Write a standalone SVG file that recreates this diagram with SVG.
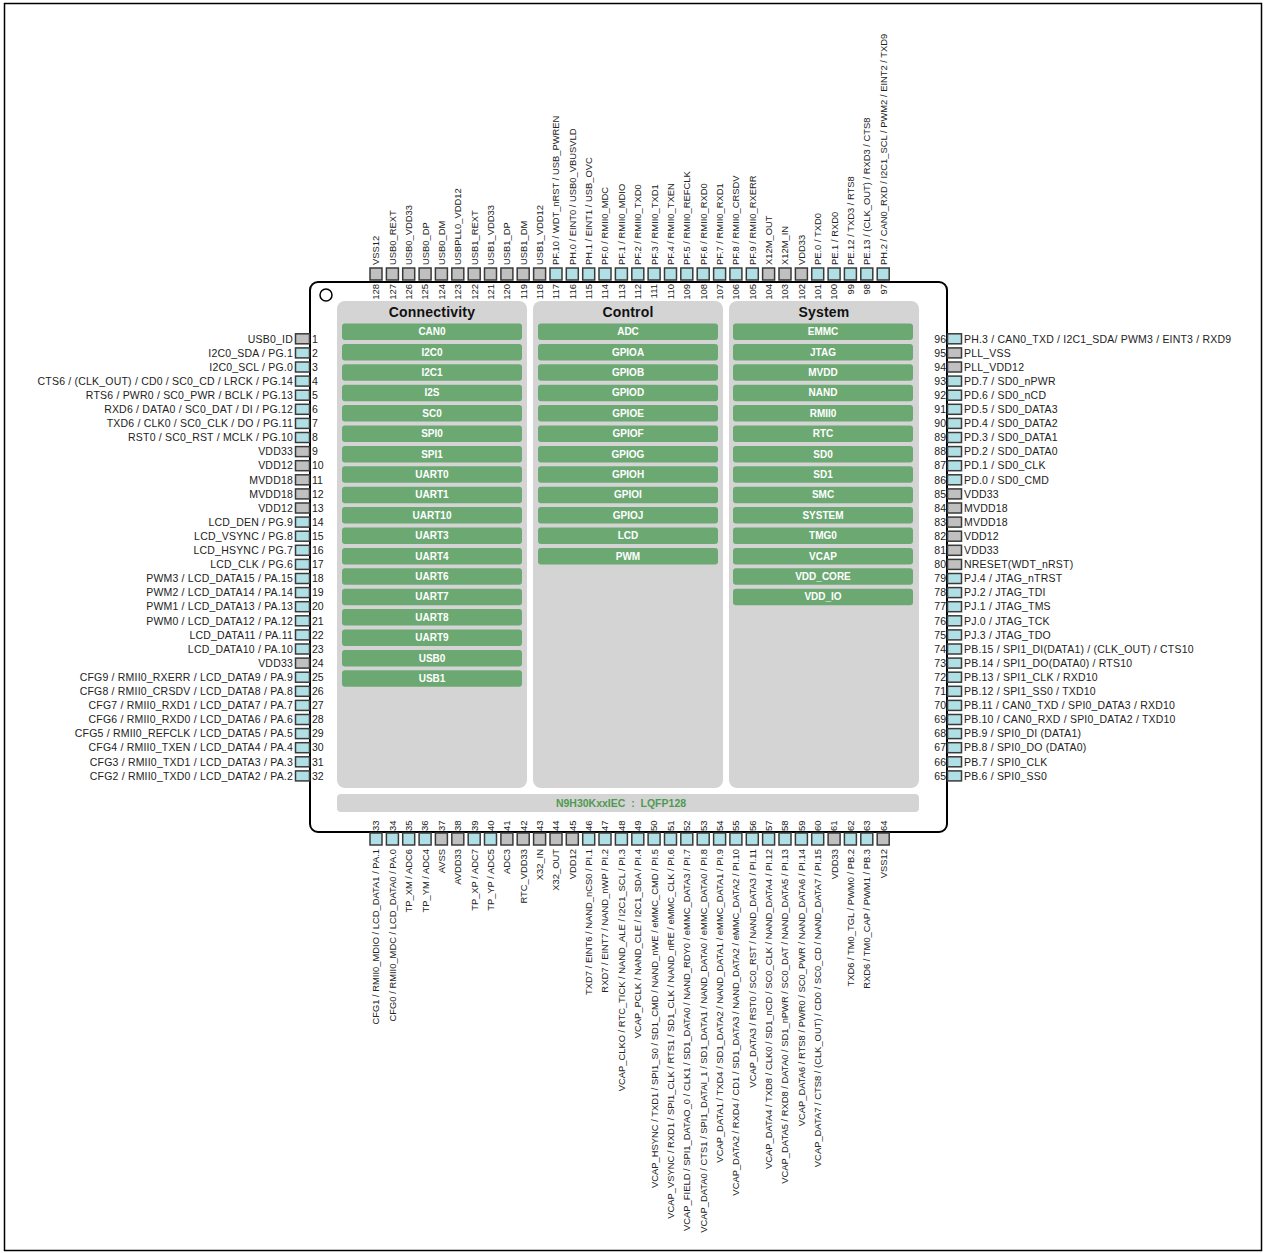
<svg xmlns="http://www.w3.org/2000/svg" width="1267" height="1253" viewBox="0 0 1267 1253">
<style>
text{font-family:"Liberation Sans",Arial,Helvetica,sans-serif;fill:#222}
.h{font-size:10.5px;letter-spacing:0.2px}
.v{font-size:9.4px}
.n{font-size:9.5px}
.hn{font-size:10.5px}
.e{text-anchor:end}
.g{fill:#c0c0c0;stroke:#3a3a3a;stroke-width:1.5}
.c{fill:#b0e0e6;stroke:#3a3a3a;stroke-width:1.5}
.pan{fill:#d4d4d4}
.bt{fill:#6ba872}
.bx{font-size:10px;font-weight:bold;fill:#fff;text-anchor:middle}
.tt{font-size:14px;font-weight:bold;fill:#111;text-anchor:middle;letter-spacing:0.2px}
</style>
<rect x="4.5" y="3.5" width="1257" height="1247" fill="none" stroke="#000" stroke-width="1.5"/>
<g id="chip">
<rect x="310" y="282" width="637" height="550" rx="8" fill="#fff" stroke="#000" stroke-width="2"/>
<circle cx="326" cy="295" r="6" fill="#fff" stroke="#000" stroke-width="1.5"/>
</g>
<g id="connectivity">
<rect class="pan" x="337" y="301" width="190" height="487" rx="8"/>
<text class="tt" x="432" y="316.5">Connectivity</text>
<g id="CAN0" transform="translate(342 323.5)"><rect class="bt" width="180" height="16.5" rx="3"/><text class="bx" x="90" y="11.8">CAN0</text></g>
<g id="I2C0" transform="translate(342 343.9)"><rect class="bt" width="180" height="16.5" rx="3"/><text class="bx" x="90" y="11.8">I2C0</text></g>
<g id="I2C1" transform="translate(342 364.3)"><rect class="bt" width="180" height="16.5" rx="3"/><text class="bx" x="90" y="11.8">I2C1</text></g>
<g id="I2S" transform="translate(342 384.7)"><rect class="bt" width="180" height="16.5" rx="3"/><text class="bx" x="90" y="11.8">I2S</text></g>
<g id="SC0" transform="translate(342 405.1)"><rect class="bt" width="180" height="16.5" rx="3"/><text class="bx" x="90" y="11.8">SC0</text></g>
<g id="SPI0" transform="translate(342 425.5)"><rect class="bt" width="180" height="16.5" rx="3"/><text class="bx" x="90" y="11.8">SPI0</text></g>
<g id="SPI1" transform="translate(342 445.9)"><rect class="bt" width="180" height="16.5" rx="3"/><text class="bx" x="90" y="11.8">SPI1</text></g>
<g id="UART0" transform="translate(342 466.3)"><rect class="bt" width="180" height="16.5" rx="3"/><text class="bx" x="90" y="11.8">UART0</text></g>
<g id="UART1" transform="translate(342 486.7)"><rect class="bt" width="180" height="16.5" rx="3"/><text class="bx" x="90" y="11.8">UART1</text></g>
<g id="UART10" transform="translate(342 507.1)"><rect class="bt" width="180" height="16.5" rx="3"/><text class="bx" x="90" y="11.8">UART10</text></g>
<g id="UART3" transform="translate(342 527.5)"><rect class="bt" width="180" height="16.5" rx="3"/><text class="bx" x="90" y="11.8">UART3</text></g>
<g id="UART4" transform="translate(342 547.9)"><rect class="bt" width="180" height="16.5" rx="3"/><text class="bx" x="90" y="11.8">UART4</text></g>
<g id="UART6" transform="translate(342 568.3)"><rect class="bt" width="180" height="16.5" rx="3"/><text class="bx" x="90" y="11.8">UART6</text></g>
<g id="UART7" transform="translate(342 588.7)"><rect class="bt" width="180" height="16.5" rx="3"/><text class="bx" x="90" y="11.8">UART7</text></g>
<g id="UART8" transform="translate(342 609.1)"><rect class="bt" width="180" height="16.5" rx="3"/><text class="bx" x="90" y="11.8">UART8</text></g>
<g id="UART9" transform="translate(342 629.5)"><rect class="bt" width="180" height="16.5" rx="3"/><text class="bx" x="90" y="11.8">UART9</text></g>
<g id="USB0" transform="translate(342 649.9)"><rect class="bt" width="180" height="16.5" rx="3"/><text class="bx" x="90" y="11.8">USB0</text></g>
<g id="USB1" transform="translate(342 670.3)"><rect class="bt" width="180" height="16.5" rx="3"/><text class="bx" x="90" y="11.8">USB1</text></g>
</g>
<g id="control">
<rect class="pan" x="533" y="301" width="190" height="487" rx="8"/>
<text class="tt" x="628" y="316.5">Control</text>
<g id="ADC" transform="translate(538 323.5)"><rect class="bt" width="180" height="16.5" rx="3"/><text class="bx" x="90" y="11.8">ADC</text></g>
<g id="GPIOA" transform="translate(538 343.9)"><rect class="bt" width="180" height="16.5" rx="3"/><text class="bx" x="90" y="11.8">GPIOA</text></g>
<g id="GPIOB" transform="translate(538 364.3)"><rect class="bt" width="180" height="16.5" rx="3"/><text class="bx" x="90" y="11.8">GPIOB</text></g>
<g id="GPIOD" transform="translate(538 384.7)"><rect class="bt" width="180" height="16.5" rx="3"/><text class="bx" x="90" y="11.8">GPIOD</text></g>
<g id="GPIOE" transform="translate(538 405.1)"><rect class="bt" width="180" height="16.5" rx="3"/><text class="bx" x="90" y="11.8">GPIOE</text></g>
<g id="GPIOF" transform="translate(538 425.5)"><rect class="bt" width="180" height="16.5" rx="3"/><text class="bx" x="90" y="11.8">GPIOF</text></g>
<g id="GPIOG" transform="translate(538 445.9)"><rect class="bt" width="180" height="16.5" rx="3"/><text class="bx" x="90" y="11.8">GPIOG</text></g>
<g id="GPIOH" transform="translate(538 466.3)"><rect class="bt" width="180" height="16.5" rx="3"/><text class="bx" x="90" y="11.8">GPIOH</text></g>
<g id="GPIOI" transform="translate(538 486.7)"><rect class="bt" width="180" height="16.5" rx="3"/><text class="bx" x="90" y="11.8">GPIOI</text></g>
<g id="GPIOJ" transform="translate(538 507.1)"><rect class="bt" width="180" height="16.5" rx="3"/><text class="bx" x="90" y="11.8">GPIOJ</text></g>
<g id="LCD" transform="translate(538 527.5)"><rect class="bt" width="180" height="16.5" rx="3"/><text class="bx" x="90" y="11.8">LCD</text></g>
<g id="PWM" transform="translate(538 547.9)"><rect class="bt" width="180" height="16.5" rx="3"/><text class="bx" x="90" y="11.8">PWM</text></g>
</g>
<g id="system">
<rect class="pan" x="729" y="301" width="190" height="487" rx="8"/>
<text class="tt" x="824" y="316.5">System</text>
<g id="EMMC" transform="translate(733 323.5)"><rect class="bt" width="180" height="16.5" rx="3"/><text class="bx" x="90" y="11.8">EMMC</text></g>
<g id="JTAG" transform="translate(733 343.9)"><rect class="bt" width="180" height="16.5" rx="3"/><text class="bx" x="90" y="11.8">JTAG</text></g>
<g id="MVDD" transform="translate(733 364.3)"><rect class="bt" width="180" height="16.5" rx="3"/><text class="bx" x="90" y="11.8">MVDD</text></g>
<g id="NAND" transform="translate(733 384.7)"><rect class="bt" width="180" height="16.5" rx="3"/><text class="bx" x="90" y="11.8">NAND</text></g>
<g id="RMII0" transform="translate(733 405.1)"><rect class="bt" width="180" height="16.5" rx="3"/><text class="bx" x="90" y="11.8">RMII0</text></g>
<g id="RTC" transform="translate(733 425.5)"><rect class="bt" width="180" height="16.5" rx="3"/><text class="bx" x="90" y="11.8">RTC</text></g>
<g id="SD0" transform="translate(733 445.9)"><rect class="bt" width="180" height="16.5" rx="3"/><text class="bx" x="90" y="11.8">SD0</text></g>
<g id="SD1" transform="translate(733 466.3)"><rect class="bt" width="180" height="16.5" rx="3"/><text class="bx" x="90" y="11.8">SD1</text></g>
<g id="SMC" transform="translate(733 486.7)"><rect class="bt" width="180" height="16.5" rx="3"/><text class="bx" x="90" y="11.8">SMC</text></g>
<g id="SYSTEM" transform="translate(733 507.1)"><rect class="bt" width="180" height="16.5" rx="3"/><text class="bx" x="90" y="11.8">SYSTEM</text></g>
<g id="TMG0" transform="translate(733 527.5)"><rect class="bt" width="180" height="16.5" rx="3"/><text class="bx" x="90" y="11.8">TMG0</text></g>
<g id="VCAP" transform="translate(733 547.9)"><rect class="bt" width="180" height="16.5" rx="3"/><text class="bx" x="90" y="11.8">VCAP</text></g>
<g id="VDD_CORE" transform="translate(733 568.3)"><rect class="bt" width="180" height="16.5" rx="3"/><text class="bx" x="90" y="11.8">VDD_CORE</text></g>
<g id="VDD_IO" transform="translate(733 588.7)"><rect class="bt" width="180" height="16.5" rx="3"/><text class="bx" x="90" y="11.8">VDD_IO</text></g>
</g>
<g id="package">
<rect class="pan" x="337" y="794" width="582" height="18" rx="4"/>
<text x="621" y="806.8" text-anchor="middle" font-size="10.5" font-weight="bold" style="fill:#4f9a52" xml:space="preserve">N9H30KxxIEC  :  LQFP128</text>
</g>
<g id="left-pins">
<g id="p1" transform="translate(0 338.8)"><rect class="g" x="295.5" y="-5" width="14" height="10"/><text class="h e" x="293" y="3.7">USB0_ID</text><text class="hn" x="312" y="3.7">1</text></g>
<g id="p2" transform="translate(0 352.9)"><rect class="c" x="295.5" y="-5" width="14" height="10"/><text class="h e" x="293" y="3.7">I2C0_SDA / PG.1</text><text class="hn" x="312" y="3.7">2</text></g>
<g id="p3" transform="translate(0 367)"><rect class="c" x="295.5" y="-5" width="14" height="10"/><text class="h e" x="293" y="3.7">I2C0_SCL / PG.0</text><text class="hn" x="312" y="3.7">3</text></g>
<g id="p4" transform="translate(0 381.1)"><rect class="c" x="295.5" y="-5" width="14" height="10"/><text class="h e" x="293" y="3.7">CTS6 / (CLK_OUT) / CD0 / SC0_CD / LRCK / PG.14</text><text class="hn" x="312" y="3.7">4</text></g>
<g id="p5" transform="translate(0 395.2)"><rect class="c" x="295.5" y="-5" width="14" height="10"/><text class="h e" x="293" y="3.7">RTS6 / PWR0 / SC0_PWR / BCLK / PG.13</text><text class="hn" x="312" y="3.7">5</text></g>
<g id="p6" transform="translate(0 409.3)"><rect class="c" x="295.5" y="-5" width="14" height="10"/><text class="h e" x="293" y="3.7">RXD6 / DATA0 / SC0_DAT / DI / PG.12</text><text class="hn" x="312" y="3.7">6</text></g>
<g id="p7" transform="translate(0 423.4)"><rect class="c" x="295.5" y="-5" width="14" height="10"/><text class="h e" x="293" y="3.7">TXD6 / CLK0 / SC0_CLK / DO / PG.11</text><text class="hn" x="312" y="3.7">7</text></g>
<g id="p8" transform="translate(0 437.5)"><rect class="c" x="295.5" y="-5" width="14" height="10"/><text class="h e" x="293" y="3.7">RST0 / SC0_RST / MCLK / PG.10</text><text class="hn" x="312" y="3.7">8</text></g>
<g id="p9" transform="translate(0 451.6)"><rect class="g" x="295.5" y="-5" width="14" height="10"/><text class="h e" x="293" y="3.7">VDD33</text><text class="hn" x="312" y="3.7">9</text></g>
<g id="p10" transform="translate(0 465.7)"><rect class="g" x="295.5" y="-5" width="14" height="10"/><text class="h e" x="293" y="3.7">VDD12</text><text class="hn" x="312" y="3.7">10</text></g>
<g id="p11" transform="translate(0 479.8)"><rect class="g" x="295.5" y="-5" width="14" height="10"/><text class="h e" x="293" y="3.7">MVDD18</text><text class="hn" x="312" y="3.7">11</text></g>
<g id="p12" transform="translate(0 493.9)"><rect class="g" x="295.5" y="-5" width="14" height="10"/><text class="h e" x="293" y="3.7">MVDD18</text><text class="hn" x="312" y="3.7">12</text></g>
<g id="p13" transform="translate(0 508)"><rect class="g" x="295.5" y="-5" width="14" height="10"/><text class="h e" x="293" y="3.7">VDD12</text><text class="hn" x="312" y="3.7">13</text></g>
<g id="p14" transform="translate(0 522.1)"><rect class="c" x="295.5" y="-5" width="14" height="10"/><text class="h e" x="293" y="3.7">LCD_DEN / PG.9</text><text class="hn" x="312" y="3.7">14</text></g>
<g id="p15" transform="translate(0 536.2)"><rect class="c" x="295.5" y="-5" width="14" height="10"/><text class="h e" x="293" y="3.7">LCD_VSYNC / PG.8</text><text class="hn" x="312" y="3.7">15</text></g>
<g id="p16" transform="translate(0 550.3)"><rect class="c" x="295.5" y="-5" width="14" height="10"/><text class="h e" x="293" y="3.7">LCD_HSYNC / PG.7</text><text class="hn" x="312" y="3.7">16</text></g>
<g id="p17" transform="translate(0 564.4)"><rect class="c" x="295.5" y="-5" width="14" height="10"/><text class="h e" x="293" y="3.7">LCD_CLK / PG.6</text><text class="hn" x="312" y="3.7">17</text></g>
<g id="p18" transform="translate(0 578.5)"><rect class="c" x="295.5" y="-5" width="14" height="10"/><text class="h e" x="293" y="3.7">PWM3 / LCD_DATA15 / PA.15</text><text class="hn" x="312" y="3.7">18</text></g>
<g id="p19" transform="translate(0 592.6)"><rect class="c" x="295.5" y="-5" width="14" height="10"/><text class="h e" x="293" y="3.7">PWM2 / LCD_DATA14 / PA.14</text><text class="hn" x="312" y="3.7">19</text></g>
<g id="p20" transform="translate(0 606.7)"><rect class="c" x="295.5" y="-5" width="14" height="10"/><text class="h e" x="293" y="3.7">PWM1 / LCD_DATA13 / PA.13</text><text class="hn" x="312" y="3.7">20</text></g>
<g id="p21" transform="translate(0 620.8)"><rect class="c" x="295.5" y="-5" width="14" height="10"/><text class="h e" x="293" y="3.7">PWM0 / LCD_DATA12 / PA.12</text><text class="hn" x="312" y="3.7">21</text></g>
<g id="p22" transform="translate(0 634.9)"><rect class="c" x="295.5" y="-5" width="14" height="10"/><text class="h e" x="293" y="3.7">LCD_DATA11 / PA.11</text><text class="hn" x="312" y="3.7">22</text></g>
<g id="p23" transform="translate(0 649)"><rect class="c" x="295.5" y="-5" width="14" height="10"/><text class="h e" x="293" y="3.7">LCD_DATA10 / PA.10</text><text class="hn" x="312" y="3.7">23</text></g>
<g id="p24" transform="translate(0 663.1)"><rect class="g" x="295.5" y="-5" width="14" height="10"/><text class="h e" x="293" y="3.7">VDD33</text><text class="hn" x="312" y="3.7">24</text></g>
<g id="p25" transform="translate(0 677.2)"><rect class="c" x="295.5" y="-5" width="14" height="10"/><text class="h e" x="293" y="3.7">CFG9 / RMII0_RXERR / LCD_DATA9 / PA.9</text><text class="hn" x="312" y="3.7">25</text></g>
<g id="p26" transform="translate(0 691.3)"><rect class="c" x="295.5" y="-5" width="14" height="10"/><text class="h e" x="293" y="3.7">CFG8 / RMII0_CRSDV / LCD_DATA8 / PA.8</text><text class="hn" x="312" y="3.7">26</text></g>
<g id="p27" transform="translate(0 705.4)"><rect class="c" x="295.5" y="-5" width="14" height="10"/><text class="h e" x="293" y="3.7">CFG7 / RMII0_RXD1 / LCD_DATA7 / PA.7</text><text class="hn" x="312" y="3.7">27</text></g>
<g id="p28" transform="translate(0 719.5)"><rect class="c" x="295.5" y="-5" width="14" height="10"/><text class="h e" x="293" y="3.7">CFG6 / RMII0_RXD0 / LCD_DATA6 / PA.6</text><text class="hn" x="312" y="3.7">28</text></g>
<g id="p29" transform="translate(0 733.6)"><rect class="c" x="295.5" y="-5" width="14" height="10"/><text class="h e" x="293" y="3.7">CFG5 / RMII0_REFCLK / LCD_DATA5 / PA.5</text><text class="hn" x="312" y="3.7">29</text></g>
<g id="p30" transform="translate(0 747.7)"><rect class="c" x="295.5" y="-5" width="14" height="10"/><text class="h e" x="293" y="3.7">CFG4 / RMII0_TXEN / LCD_DATA4 / PA.4</text><text class="hn" x="312" y="3.7">30</text></g>
<g id="p31" transform="translate(0 761.8)"><rect class="c" x="295.5" y="-5" width="14" height="10"/><text class="h e" x="293" y="3.7">CFG3 / RMII0_TXD1 / LCD_DATA3 / PA.3</text><text class="hn" x="312" y="3.7">31</text></g>
<g id="p32" transform="translate(0 775.9)"><rect class="c" x="295.5" y="-5" width="14" height="10"/><text class="h e" x="293" y="3.7">CFG2 / RMII0_TXD0 / LCD_DATA2 / PA.2</text><text class="hn" x="312" y="3.7">32</text></g>
</g>
<g id="right-pins">
<g id="p96" transform="translate(0 338.8)"><rect class="c" x="947.5" y="-5" width="14" height="10"/><text class="h" x="964" y="3.7">PH.3 / CAN0_TXD / I2C1_SDA/ PWM3 / EINT3 / RXD9</text><text class="hn e" x="946" y="3.7">96</text></g>
<g id="p95" transform="translate(0 352.9)"><rect class="g" x="947.5" y="-5" width="14" height="10"/><text class="h" x="964" y="3.7">PLL_VSS</text><text class="hn e" x="946" y="3.7">95</text></g>
<g id="p94" transform="translate(0 367)"><rect class="g" x="947.5" y="-5" width="14" height="10"/><text class="h" x="964" y="3.7">PLL_VDD12</text><text class="hn e" x="946" y="3.7">94</text></g>
<g id="p93" transform="translate(0 381.1)"><rect class="c" x="947.5" y="-5" width="14" height="10"/><text class="h" x="964" y="3.7">PD.7 / SD0_nPWR</text><text class="hn e" x="946" y="3.7">93</text></g>
<g id="p92" transform="translate(0 395.2)"><rect class="c" x="947.5" y="-5" width="14" height="10"/><text class="h" x="964" y="3.7">PD.6 / SD0_nCD</text><text class="hn e" x="946" y="3.7">92</text></g>
<g id="p91" transform="translate(0 409.3)"><rect class="c" x="947.5" y="-5" width="14" height="10"/><text class="h" x="964" y="3.7">PD.5 / SD0_DATA3</text><text class="hn e" x="946" y="3.7">91</text></g>
<g id="p90" transform="translate(0 423.4)"><rect class="c" x="947.5" y="-5" width="14" height="10"/><text class="h" x="964" y="3.7">PD.4 / SD0_DATA2</text><text class="hn e" x="946" y="3.7">90</text></g>
<g id="p89" transform="translate(0 437.5)"><rect class="c" x="947.5" y="-5" width="14" height="10"/><text class="h" x="964" y="3.7">PD.3 / SD0_DATA1</text><text class="hn e" x="946" y="3.7">89</text></g>
<g id="p88" transform="translate(0 451.6)"><rect class="c" x="947.5" y="-5" width="14" height="10"/><text class="h" x="964" y="3.7">PD.2 / SD0_DATA0</text><text class="hn e" x="946" y="3.7">88</text></g>
<g id="p87" transform="translate(0 465.7)"><rect class="c" x="947.5" y="-5" width="14" height="10"/><text class="h" x="964" y="3.7">PD.1 / SD0_CLK</text><text class="hn e" x="946" y="3.7">87</text></g>
<g id="p86" transform="translate(0 479.8)"><rect class="c" x="947.5" y="-5" width="14" height="10"/><text class="h" x="964" y="3.7">PD.0 / SD0_CMD</text><text class="hn e" x="946" y="3.7">86</text></g>
<g id="p85" transform="translate(0 493.9)"><rect class="g" x="947.5" y="-5" width="14" height="10"/><text class="h" x="964" y="3.7">VDD33</text><text class="hn e" x="946" y="3.7">85</text></g>
<g id="p84" transform="translate(0 508)"><rect class="g" x="947.5" y="-5" width="14" height="10"/><text class="h" x="964" y="3.7">MVDD18</text><text class="hn e" x="946" y="3.7">84</text></g>
<g id="p83" transform="translate(0 522.1)"><rect class="g" x="947.5" y="-5" width="14" height="10"/><text class="h" x="964" y="3.7">MVDD18</text><text class="hn e" x="946" y="3.7">83</text></g>
<g id="p82" transform="translate(0 536.2)"><rect class="g" x="947.5" y="-5" width="14" height="10"/><text class="h" x="964" y="3.7">VDD12</text><text class="hn e" x="946" y="3.7">82</text></g>
<g id="p81" transform="translate(0 550.3)"><rect class="g" x="947.5" y="-5" width="14" height="10"/><text class="h" x="964" y="3.7">VDD33</text><text class="hn e" x="946" y="3.7">81</text></g>
<g id="p80" transform="translate(0 564.4)"><rect class="g" x="947.5" y="-5" width="14" height="10"/><text class="h" x="964" y="3.7">NRESET(WDT_nRST)</text><text class="hn e" x="946" y="3.7">80</text></g>
<g id="p79" transform="translate(0 578.5)"><rect class="c" x="947.5" y="-5" width="14" height="10"/><text class="h" x="964" y="3.7">PJ.4 / JTAG_nTRST</text><text class="hn e" x="946" y="3.7">79</text></g>
<g id="p78" transform="translate(0 592.6)"><rect class="c" x="947.5" y="-5" width="14" height="10"/><text class="h" x="964" y="3.7">PJ.2 / JTAG_TDI</text><text class="hn e" x="946" y="3.7">78</text></g>
<g id="p77" transform="translate(0 606.7)"><rect class="c" x="947.5" y="-5" width="14" height="10"/><text class="h" x="964" y="3.7">PJ.1 / JTAG_TMS</text><text class="hn e" x="946" y="3.7">77</text></g>
<g id="p76" transform="translate(0 620.8)"><rect class="c" x="947.5" y="-5" width="14" height="10"/><text class="h" x="964" y="3.7">PJ.0 / JTAG_TCK</text><text class="hn e" x="946" y="3.7">76</text></g>
<g id="p75" transform="translate(0 634.9)"><rect class="c" x="947.5" y="-5" width="14" height="10"/><text class="h" x="964" y="3.7">PJ.3 / JTAG_TDO</text><text class="hn e" x="946" y="3.7">75</text></g>
<g id="p74" transform="translate(0 649)"><rect class="c" x="947.5" y="-5" width="14" height="10"/><text class="h" x="964" y="3.7">PB.15 / SPI1_DI(DATA1) / (CLK_OUT) / CTS10</text><text class="hn e" x="946" y="3.7">74</text></g>
<g id="p73" transform="translate(0 663.1)"><rect class="c" x="947.5" y="-5" width="14" height="10"/><text class="h" x="964" y="3.7">PB.14 / SPI1_DO(DATA0) / RTS10</text><text class="hn e" x="946" y="3.7">73</text></g>
<g id="p72" transform="translate(0 677.2)"><rect class="c" x="947.5" y="-5" width="14" height="10"/><text class="h" x="964" y="3.7">PB.13 / SPI1_CLK / RXD10</text><text class="hn e" x="946" y="3.7">72</text></g>
<g id="p71" transform="translate(0 691.3)"><rect class="c" x="947.5" y="-5" width="14" height="10"/><text class="h" x="964" y="3.7">PB.12 / SPI1_SS0 / TXD10</text><text class="hn e" x="946" y="3.7">71</text></g>
<g id="p70" transform="translate(0 705.4)"><rect class="c" x="947.5" y="-5" width="14" height="10"/><text class="h" x="964" y="3.7">PB.11 / CAN0_TXD / SPI0_DATA3 / RXD10</text><text class="hn e" x="946" y="3.7">70</text></g>
<g id="p69" transform="translate(0 719.5)"><rect class="c" x="947.5" y="-5" width="14" height="10"/><text class="h" x="964" y="3.7">PB.10 / CAN0_RXD / SPI0_DATA2 / TXD10</text><text class="hn e" x="946" y="3.7">69</text></g>
<g id="p68" transform="translate(0 733.6)"><rect class="c" x="947.5" y="-5" width="14" height="10"/><text class="h" x="964" y="3.7">PB.9 / SPI0_DI (DATA1)</text><text class="hn e" x="946" y="3.7">68</text></g>
<g id="p67" transform="translate(0 747.7)"><rect class="c" x="947.5" y="-5" width="14" height="10"/><text class="h" x="964" y="3.7">PB.8 / SPI0_DO (DATA0)</text><text class="hn e" x="946" y="3.7">67</text></g>
<g id="p66" transform="translate(0 761.8)"><rect class="c" x="947.5" y="-5" width="14" height="10"/><text class="h" x="964" y="3.7">PB.7 / SPI0_CLK</text><text class="hn e" x="946" y="3.7">66</text></g>
<g id="p65" transform="translate(0 775.9)"><rect class="c" x="947.5" y="-5" width="14" height="10"/><text class="h" x="964" y="3.7">PB.6 / SPI0_SS0</text><text class="hn e" x="946" y="3.7">65</text></g>
</g>
<g id="top-pins">
<g id="p128" transform="translate(376 0)"><rect class="g" x="-6" y="268" width="12" height="12"/><text class="v" transform="rotate(-90)" x="-265" y="3.4">VSS12</text><text class="n e" transform="rotate(-90)" x="-284" y="3.3">128</text></g>
<g id="p127" transform="translate(392.4 0)"><rect class="g" x="-6" y="268" width="12" height="12"/><text class="v" transform="rotate(-90)" x="-265" y="3.4">USB0_REXT</text><text class="n e" transform="rotate(-90)" x="-284" y="3.3">127</text></g>
<g id="p126" transform="translate(408.7 0)"><rect class="g" x="-6" y="268" width="12" height="12"/><text class="v" transform="rotate(-90)" x="-265" y="3.4">USB0_VDD33</text><text class="n e" transform="rotate(-90)" x="-284" y="3.3">126</text></g>
<g id="p125" transform="translate(425.1 0)"><rect class="g" x="-6" y="268" width="12" height="12"/><text class="v" transform="rotate(-90)" x="-265" y="3.4">USB0_DP</text><text class="n e" transform="rotate(-90)" x="-284" y="3.3">125</text></g>
<g id="p124" transform="translate(441.4 0)"><rect class="g" x="-6" y="268" width="12" height="12"/><text class="v" transform="rotate(-90)" x="-265" y="3.4">USB0_DM</text><text class="n e" transform="rotate(-90)" x="-284" y="3.3">124</text></g>
<g id="p123" transform="translate(457.8 0)"><rect class="g" x="-6" y="268" width="12" height="12"/><text class="v" transform="rotate(-90)" x="-265" y="3.4">USBPLL0_VDD12</text><text class="n e" transform="rotate(-90)" x="-284" y="3.3">123</text></g>
<g id="p122" transform="translate(474.2 0)"><rect class="g" x="-6" y="268" width="12" height="12"/><text class="v" transform="rotate(-90)" x="-265" y="3.4">USB1_REXT</text><text class="n e" transform="rotate(-90)" x="-284" y="3.3">122</text></g>
<g id="p121" transform="translate(490.5 0)"><rect class="g" x="-6" y="268" width="12" height="12"/><text class="v" transform="rotate(-90)" x="-265" y="3.4">USB1_VDD33</text><text class="n e" transform="rotate(-90)" x="-284" y="3.3">121</text></g>
<g id="p120" transform="translate(506.9 0)"><rect class="g" x="-6" y="268" width="12" height="12"/><text class="v" transform="rotate(-90)" x="-265" y="3.4">USB1_DP</text><text class="n e" transform="rotate(-90)" x="-284" y="3.3">120</text></g>
<g id="p119" transform="translate(523.2 0)"><rect class="g" x="-6" y="268" width="12" height="12"/><text class="v" transform="rotate(-90)" x="-265" y="3.4">USB1_DM</text><text class="n e" transform="rotate(-90)" x="-284" y="3.3">119</text></g>
<g id="p118" transform="translate(539.6 0)"><rect class="g" x="-6" y="268" width="12" height="12"/><text class="v" transform="rotate(-90)" x="-265" y="3.4">USB1_VDD12</text><text class="n e" transform="rotate(-90)" x="-284" y="3.3">118</text></g>
<g id="p117" transform="translate(556 0)"><rect class="c" x="-6" y="268" width="12" height="12"/><text class="v" transform="rotate(-90)" x="-265" y="3.4">PF.10 / WDT_nRST / USB_PWREN</text><text class="n e" transform="rotate(-90)" x="-284" y="3.3">117</text></g>
<g id="p116" transform="translate(572.3 0)"><rect class="c" x="-6" y="268" width="12" height="12"/><text class="v" transform="rotate(-90)" x="-265" y="3.4">PH.0 / EINT0 / USB0_VBUSVLD</text><text class="n e" transform="rotate(-90)" x="-284" y="3.3">116</text></g>
<g id="p115" transform="translate(588.7 0)"><rect class="c" x="-6" y="268" width="12" height="12"/><text class="v" transform="rotate(-90)" x="-265" y="3.4">PH.1 / EINT1 / USB_OVC</text><text class="n e" transform="rotate(-90)" x="-284" y="3.3">115</text></g>
<g id="p114" transform="translate(605 0)"><rect class="c" x="-6" y="268" width="12" height="12"/><text class="v" transform="rotate(-90)" x="-265" y="3.4">PF.0 / RMII0_MDC</text><text class="n e" transform="rotate(-90)" x="-284" y="3.3">114</text></g>
<g id="p113" transform="translate(621.4 0)"><rect class="c" x="-6" y="268" width="12" height="12"/><text class="v" transform="rotate(-90)" x="-265" y="3.4">PF.1 / RMII0_MDIO</text><text class="n e" transform="rotate(-90)" x="-284" y="3.3">113</text></g>
<g id="p112" transform="translate(637.8 0)"><rect class="c" x="-6" y="268" width="12" height="12"/><text class="v" transform="rotate(-90)" x="-265" y="3.4">PF.2 / RMII0_TXD0</text><text class="n e" transform="rotate(-90)" x="-284" y="3.3">112</text></g>
<g id="p111" transform="translate(654.1 0)"><rect class="c" x="-6" y="268" width="12" height="12"/><text class="v" transform="rotate(-90)" x="-265" y="3.4">PF.3 / RMII0_TXD1</text><text class="n e" transform="rotate(-90)" x="-284" y="3.3">111</text></g>
<g id="p110" transform="translate(670.5 0)"><rect class="c" x="-6" y="268" width="12" height="12"/><text class="v" transform="rotate(-90)" x="-265" y="3.4">PF.4 / RMII0_TXEN</text><text class="n e" transform="rotate(-90)" x="-284" y="3.3">110</text></g>
<g id="p109" transform="translate(686.8 0)"><rect class="c" x="-6" y="268" width="12" height="12"/><text class="v" transform="rotate(-90)" x="-265" y="3.4">PF.5 / RMII0_REFCLK</text><text class="n e" transform="rotate(-90)" x="-284" y="3.3">109</text></g>
<g id="p108" transform="translate(703.2 0)"><rect class="c" x="-6" y="268" width="12" height="12"/><text class="v" transform="rotate(-90)" x="-265" y="3.4">PF.6 / RMII0_RXD0</text><text class="n e" transform="rotate(-90)" x="-284" y="3.3">108</text></g>
<g id="p107" transform="translate(719.6 0)"><rect class="c" x="-6" y="268" width="12" height="12"/><text class="v" transform="rotate(-90)" x="-265" y="3.4">PF.7 / RMII0_RXD1</text><text class="n e" transform="rotate(-90)" x="-284" y="3.3">107</text></g>
<g id="p106" transform="translate(735.9 0)"><rect class="c" x="-6" y="268" width="12" height="12"/><text class="v" transform="rotate(-90)" x="-265" y="3.4">PF.8 / RMII0_CRSDV</text><text class="n e" transform="rotate(-90)" x="-284" y="3.3">106</text></g>
<g id="p105" transform="translate(752.3 0)"><rect class="c" x="-6" y="268" width="12" height="12"/><text class="v" transform="rotate(-90)" x="-265" y="3.4">PF.9 / RMII0_RXERR</text><text class="n e" transform="rotate(-90)" x="-284" y="3.3">105</text></g>
<g id="p104" transform="translate(768.6 0)"><rect class="g" x="-6" y="268" width="12" height="12"/><text class="v" transform="rotate(-90)" x="-265" y="3.4">X12M_OUT</text><text class="n e" transform="rotate(-90)" x="-284" y="3.3">104</text></g>
<g id="p103" transform="translate(785 0)"><rect class="g" x="-6" y="268" width="12" height="12"/><text class="v" transform="rotate(-90)" x="-265" y="3.4">X12M_IN</text><text class="n e" transform="rotate(-90)" x="-284" y="3.3">103</text></g>
<g id="p102" transform="translate(801.4 0)"><rect class="g" x="-6" y="268" width="12" height="12"/><text class="v" transform="rotate(-90)" x="-265" y="3.4">VDD33</text><text class="n e" transform="rotate(-90)" x="-284" y="3.3">102</text></g>
<g id="p101" transform="translate(817.7 0)"><rect class="c" x="-6" y="268" width="12" height="12"/><text class="v" transform="rotate(-90)" x="-265" y="3.4">PE.0 / TXD0</text><text class="n e" transform="rotate(-90)" x="-284" y="3.3">101</text></g>
<g id="p100" transform="translate(834.1 0)"><rect class="c" x="-6" y="268" width="12" height="12"/><text class="v" transform="rotate(-90)" x="-265" y="3.4">PE.1 / RXD0</text><text class="n e" transform="rotate(-90)" x="-284" y="3.3">100</text></g>
<g id="p99" transform="translate(850.4 0)"><rect class="c" x="-6" y="268" width="12" height="12"/><text class="v" transform="rotate(-90)" x="-265" y="3.4">PE.12 / TXD3 / RTS8</text><text class="n e" transform="rotate(-90)" x="-284" y="3.3">99</text></g>
<g id="p98" transform="translate(866.8 0)"><rect class="c" x="-6" y="268" width="12" height="12"/><text class="v" transform="rotate(-90)" x="-265" y="3.4">PE.13 / (CLK_OUT) / RXD3 / CTS8</text><text class="n e" transform="rotate(-90)" x="-284" y="3.3">98</text></g>
<g id="p97" transform="translate(883.2 0)"><rect class="c" x="-6" y="268" width="12" height="12"/><text class="v" transform="rotate(-90)" x="-265" y="3.4">PH.2 / CAN0_RXD / I2C1_SCL / PWM2 / EINT2 / TXD9</text><text class="n e" transform="rotate(-90)" x="-284" y="3.3">97</text></g>
</g>
<g id="bottom-pins">
<g id="p33" transform="translate(376 0)"><rect class="c" x="-6" y="833" width="12" height="12"/><text class="v e" transform="rotate(-90)" x="-849" y="3.4">CFG1 / RMII0_MDIO / LCD_DATA1 / PA.1</text><text class="n" transform="rotate(-90)" x="-831" y="3.3">33</text></g>
<g id="p34" transform="translate(392.4 0)"><rect class="c" x="-6" y="833" width="12" height="12"/><text class="v e" transform="rotate(-90)" x="-849" y="3.4">CFG0 / RMII0_MDC / LCD_DATA0 / PA.0</text><text class="n" transform="rotate(-90)" x="-831" y="3.3">34</text></g>
<g id="p35" transform="translate(408.7 0)"><rect class="c" x="-6" y="833" width="12" height="12"/><text class="v e" transform="rotate(-90)" x="-849" y="3.4">TP_XM / ADC6</text><text class="n" transform="rotate(-90)" x="-831" y="3.3">35</text></g>
<g id="p36" transform="translate(425.1 0)"><rect class="c" x="-6" y="833" width="12" height="12"/><text class="v e" transform="rotate(-90)" x="-849" y="3.4">TP_YM / ADC4</text><text class="n" transform="rotate(-90)" x="-831" y="3.3">36</text></g>
<g id="p37" transform="translate(441.4 0)"><rect class="g" x="-6" y="833" width="12" height="12"/><text class="v e" transform="rotate(-90)" x="-849" y="3.4">AVSS</text><text class="n" transform="rotate(-90)" x="-831" y="3.3">37</text></g>
<g id="p38" transform="translate(457.8 0)"><rect class="g" x="-6" y="833" width="12" height="12"/><text class="v e" transform="rotate(-90)" x="-849" y="3.4">AVDD33</text><text class="n" transform="rotate(-90)" x="-831" y="3.3">38</text></g>
<g id="p39" transform="translate(474.2 0)"><rect class="c" x="-6" y="833" width="12" height="12"/><text class="v e" transform="rotate(-90)" x="-849" y="3.4">TP_XP / ADC7</text><text class="n" transform="rotate(-90)" x="-831" y="3.3">39</text></g>
<g id="p40" transform="translate(490.5 0)"><rect class="c" x="-6" y="833" width="12" height="12"/><text class="v e" transform="rotate(-90)" x="-849" y="3.4">TP_YP / ADC5</text><text class="n" transform="rotate(-90)" x="-831" y="3.3">40</text></g>
<g id="p41" transform="translate(506.9 0)"><rect class="g" x="-6" y="833" width="12" height="12"/><text class="v e" transform="rotate(-90)" x="-849" y="3.4">ADC3</text><text class="n" transform="rotate(-90)" x="-831" y="3.3">41</text></g>
<g id="p42" transform="translate(523.2 0)"><rect class="g" x="-6" y="833" width="12" height="12"/><text class="v e" transform="rotate(-90)" x="-849" y="3.4">RTC_VDD33</text><text class="n" transform="rotate(-90)" x="-831" y="3.3">42</text></g>
<g id="p43" transform="translate(539.6 0)"><rect class="g" x="-6" y="833" width="12" height="12"/><text class="v e" transform="rotate(-90)" x="-849" y="3.4">X32_IN</text><text class="n" transform="rotate(-90)" x="-831" y="3.3">43</text></g>
<g id="p44" transform="translate(556 0)"><rect class="g" x="-6" y="833" width="12" height="12"/><text class="v e" transform="rotate(-90)" x="-849" y="3.4">X32_OUT</text><text class="n" transform="rotate(-90)" x="-831" y="3.3">44</text></g>
<g id="p45" transform="translate(572.3 0)"><rect class="g" x="-6" y="833" width="12" height="12"/><text class="v e" transform="rotate(-90)" x="-849" y="3.4">VDD12</text><text class="n" transform="rotate(-90)" x="-831" y="3.3">45</text></g>
<g id="p46" transform="translate(588.7 0)"><rect class="c" x="-6" y="833" width="12" height="12"/><text class="v e" transform="rotate(-90)" x="-849" y="3.4">TXD7 / EINT6 / NAND_nCS0 / PI.1</text><text class="n" transform="rotate(-90)" x="-831" y="3.3">46</text></g>
<g id="p47" transform="translate(605 0)"><rect class="c" x="-6" y="833" width="12" height="12"/><text class="v e" transform="rotate(-90)" x="-849" y="3.4">RXD7 / EINT7 / NAND_nWP / PI.2</text><text class="n" transform="rotate(-90)" x="-831" y="3.3">47</text></g>
<g id="p48" transform="translate(621.4 0)"><rect class="c" x="-6" y="833" width="12" height="12"/><text class="v e" transform="rotate(-90)" x="-849" y="3.4">VCAP_CLKO / RTC_TICK / NAND_ALE / I2C1_SCL / PI.3</text><text class="n" transform="rotate(-90)" x="-831" y="3.3">48</text></g>
<g id="p49" transform="translate(637.8 0)"><rect class="c" x="-6" y="833" width="12" height="12"/><text class="v e" transform="rotate(-90)" x="-849" y="3.4">VCAP_PCLK / NAND_CLE / I2C1_SDA / PI.4</text><text class="n" transform="rotate(-90)" x="-831" y="3.3">49</text></g>
<g id="p50" transform="translate(654.1 0)"><rect class="c" x="-6" y="833" width="12" height="12"/><text class="v e" transform="rotate(-90)" x="-849" y="3.4">VCAP_HSYNC / TXD1 / SPI1_S0 / SD1_CMD / NAND_nWE / eMMC_CMD / PI.5</text><text class="n" transform="rotate(-90)" x="-831" y="3.3">50</text></g>
<g id="p51" transform="translate(670.5 0)"><rect class="c" x="-6" y="833" width="12" height="12"/><text class="v e" transform="rotate(-90)" x="-849" y="3.4">VCAP_VSYNC / RXD1 / SPI1_CLK / RTS1 / SD1_CLK / NAND_nRE / eMMC_CLK / PI.6</text><text class="n" transform="rotate(-90)" x="-831" y="3.3">51</text></g>
<g id="p52" transform="translate(686.8 0)"><rect class="c" x="-6" y="833" width="12" height="12"/><text class="v e" transform="rotate(-90)" x="-849" y="3.4">VCAP_FIELD / SPI1_DATAO_0 / CLK1 / SD1_DATA0 / NAND_RDY0 / eMMC_DATA3 / PI.7</text><text class="n" transform="rotate(-90)" x="-831" y="3.3">52</text></g>
<g id="p53" transform="translate(703.2 0)"><rect class="c" x="-6" y="833" width="12" height="12"/><text class="v e" transform="rotate(-90)" x="-849" y="3.4">VCAP_DATA0 / CTS1 / SPI1_DATAI_1 / SD1_DATA1 / NAND_DATA0 / eMMC_DATA0 / PI.8</text><text class="n" transform="rotate(-90)" x="-831" y="3.3">53</text></g>
<g id="p54" transform="translate(719.6 0)"><rect class="c" x="-6" y="833" width="12" height="12"/><text class="v e" transform="rotate(-90)" x="-849" y="3.4">VCAP_DATA1 / TXD4 / SD1_DATA2 / NAND_DATA1 / eMMC_DATA1 / PI.9</text><text class="n" transform="rotate(-90)" x="-831" y="3.3">54</text></g>
<g id="p55" transform="translate(735.9 0)"><rect class="c" x="-6" y="833" width="12" height="12"/><text class="v e" transform="rotate(-90)" x="-849" y="3.4">VCAP_DATA2 / RXD4 / CD1 / SD1_DATA3 / NAND_DATA2 / eMMC_DATA2 / PI.10</text><text class="n" transform="rotate(-90)" x="-831" y="3.3">55</text></g>
<g id="p56" transform="translate(752.3 0)"><rect class="c" x="-6" y="833" width="12" height="12"/><text class="v e" transform="rotate(-90)" x="-849" y="3.4">VCAP_DATA3 / RST0 / SC0_RST / NAND_DATA3 / PI.11</text><text class="n" transform="rotate(-90)" x="-831" y="3.3">56</text></g>
<g id="p57" transform="translate(768.6 0)"><rect class="c" x="-6" y="833" width="12" height="12"/><text class="v e" transform="rotate(-90)" x="-849" y="3.4">VCAP_DATA4 / TXD8 / CLK0 / SD1_nCD / SC0_CLK / NAND_DATA4 / PI.12</text><text class="n" transform="rotate(-90)" x="-831" y="3.3">57</text></g>
<g id="p58" transform="translate(785 0)"><rect class="c" x="-6" y="833" width="12" height="12"/><text class="v e" transform="rotate(-90)" x="-849" y="3.4">VCAP_DATA5 / RXD8 / DATA0 / SD1_nPWR / SC0_DAT / NAND_DATA5 / PI.13</text><text class="n" transform="rotate(-90)" x="-831" y="3.3">58</text></g>
<g id="p59" transform="translate(801.4 0)"><rect class="c" x="-6" y="833" width="12" height="12"/><text class="v e" transform="rotate(-90)" x="-849" y="3.4">VCAP_DATA6 / RTS8 / PWR0 / SC0_PWR / NAND_DATA6 / PI.14</text><text class="n" transform="rotate(-90)" x="-831" y="3.3">59</text></g>
<g id="p60" transform="translate(817.7 0)"><rect class="c" x="-6" y="833" width="12" height="12"/><text class="v e" transform="rotate(-90)" x="-849" y="3.4">VCAP_DATA7 / CTS8 / (CLK_OUT) / CD0 / SC0_CD / NAND_DATA7 / PI.15</text><text class="n" transform="rotate(-90)" x="-831" y="3.3">60</text></g>
<g id="p61" transform="translate(834.1 0)"><rect class="g" x="-6" y="833" width="12" height="12"/><text class="v e" transform="rotate(-90)" x="-849" y="3.4">VDD33</text><text class="n" transform="rotate(-90)" x="-831" y="3.3">61</text></g>
<g id="p62" transform="translate(850.4 0)"><rect class="c" x="-6" y="833" width="12" height="12"/><text class="v e" transform="rotate(-90)" x="-849" y="3.4">TXD6 / TM0_TGL / PWM0 / PB.2</text><text class="n" transform="rotate(-90)" x="-831" y="3.3">62</text></g>
<g id="p63" transform="translate(866.8 0)"><rect class="c" x="-6" y="833" width="12" height="12"/><text class="v e" transform="rotate(-90)" x="-849" y="3.4">RXD6 / TM0_CAP / PWM1 / PB.3</text><text class="n" transform="rotate(-90)" x="-831" y="3.3">63</text></g>
<g id="p64" transform="translate(883.2 0)"><rect class="g" x="-6" y="833" width="12" height="12"/><text class="v e" transform="rotate(-90)" x="-849" y="3.4">VSS12</text><text class="n" transform="rotate(-90)" x="-831" y="3.3">64</text></g>
</g>
<g id="connectors"/>
</svg>
